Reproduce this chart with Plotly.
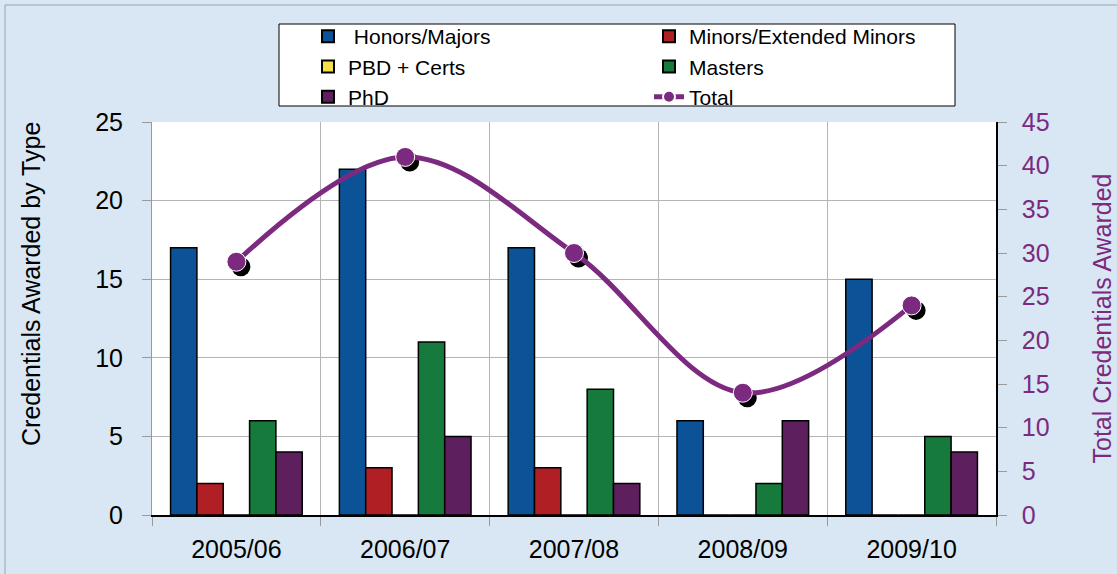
import plotly.graph_objects as go

categories = ["2005/06", "2006/07", "2007/08", "2008/09", "2009/10"]
honors_majors = [17, 22, 17, 6, 15]
minors_extended = [2, 3, 3, 0, 0]
pbd_certs = [0, 0, 0, 0, 0]
masters = [6, 11, 8, 2, 5]
phd = [4, 5, 2, 6, 4]
total = [29, 41, 30, 14, 24]

left_ticks = [0, 5, 10, 15, 20, 25]
right_ticks = [0, 5, 10, 15, 20, 25, 30, 35, 40, 45]

FONT = "Liberation Sans, Arial, sans-serif"
PURPLE = "#7b2a7f"

W, H = 1117, 574
ML, MR, MT, MB = 152, 121, 122, 59
PW, PH = W - ML - MR, H - MT - MB

series = [
    ("Honors/Majors", honors_majors, "#0b5296"),
    ("Minors/Extended Minors", minors_extended, "#b01f24"),
    ("PBD + Certs", pbd_certs, "#f5e04a"),
    ("Masters", masters, "#167a3c"),
    ("PhD", phd, "#5e1f5e"),
]

fig = go.Figure()
for name, vals, col in series:
    fig.add_trace(go.Bar(
        x=categories, y=vals, name=(" " + name if name == "Honors/Majors" else name),
        marker=dict(color=col, line=dict(color="black", width=1.5)),
        xaxis="x", yaxis="y",
    ))

idx = list(range(len(categories)))
# shadow offset (pixels -> data units)
dx = 4.5 * 5 / PW
dy = 5 * 45 / PH
fig.add_trace(go.Scatter(
    x=[i + dx for i in idx], y=[t - dy for t in total], mode="markers",
    marker=dict(color="black", size=19), showlegend=False, hoverinfo="skip",
    xaxis="x2", yaxis="y2",
))
fig.add_trace(go.Scatter(
    x=idx, y=total, name="Total", mode="lines+markers",
    line=dict(color=PURPLE, width=5, shape="spline", smoothing=1.0),
    marker=dict(color=PURPLE, size=19, line=dict(color="white", width=1)),
    xaxis="x2", yaxis="y2",
))


def px_x(p):
    return (p - ML) / PW


def px_y(p):
    return 1 - (p - MT) / PH


fig.update_layout(
    width=W, height=H,
    margin=dict(l=ML, r=MR, t=MT, b=MB, autoexpand=False),
    paper_bgcolor="#d8e7f3",
    plot_bgcolor="white",
    font=dict(family=FONT, size=22, color="black"),
    barmode="group", bargap=0.22, bargroupgap=0,
    xaxis=dict(
        type="category", range=[-0.5, 4.5], tickson="boundaries",
        showgrid=True, gridcolor="#b4b4b4", gridwidth=1,
        showline=True, linecolor="black", linewidth=2,
        ticks="outside", ticklen=9, tickcolor="#999999",
        tickfont=dict(size=25, family=FONT), ticklabelstandoff=11,
        zeroline=False, automargin=False,
    ),
    xaxis2=dict(overlaying="x", range=[-0.5, 4.5], visible=False),
    yaxis=dict(
        range=[0, 25], tickvals=left_ticks,
        showgrid=True, gridcolor="#b4b4b4", gridwidth=1,
        showline=True, linecolor="#999999", linewidth=1,
        ticks="outside", ticklen=9, tickcolor="#999999",
        tickfont=dict(size=25, family=FONT), ticklabelstandoff=14,
        zeroline=False, automargin=False,
    ),
    yaxis2=dict(
        overlaying="y", side="right", range=[0, 45], tickvals=right_ticks,
        showgrid=False, showline=True, linecolor="black", linewidth=1.5,
        ticks="outside", ticklen=9, tickcolor="#999999",
        tickfont=dict(size=25, family=FONT, color=PURPLE), ticklabelstandoff=10,
        zeroline=False, automargin=False,
        title=dict(text="Total Credentials Awarded", font=dict(size=25, family=FONT, color=PURPLE), standoff=45),
    ),
    legend=dict(
        orientation="h", xref="container", yref="container",
        x=308 / W, y=1 - 16 / H, xanchor="left", yanchor="top",
        bgcolor="rgba(0,0,0,0)", borderwidth=0,
        font=dict(size=21, family=FONT), entrywidth=296, entrywidthmode="pixels",
        traceorder="normal", itemsizing="constant",
    ),
    annotations=[
        dict(text="Credentials Awarded by Type", textangle=-90, showarrow=False,
             xref="paper", yref="paper", x=px_x(31), y=px_y(284),
             xanchor="center", yanchor="middle", font=dict(size=25, family=FONT, color="black")),
    ],
    shapes=[
        dict(type="rect", xref="paper", yref="paper",
             x0=px_x(279), x1=px_x(955), y0=px_y(24), y1=px_y(106),
             line=dict(color="black", width=1), fillcolor="white", layer="below"),
        dict(type="rect", xref="paper", yref="paper",
             x0=px_x(5), x1=px_x(W + 20), y0=px_y(5), y1=px_y(H + 20),
             line=dict(color="#9aa4ad", width=1), fillcolor="rgba(0,0,0,0)", layer="below"),
    ],
)

fig.write_html("out.html", config={"displayModeBar": False},
               post_script="document.body.style.margin='0px';")
